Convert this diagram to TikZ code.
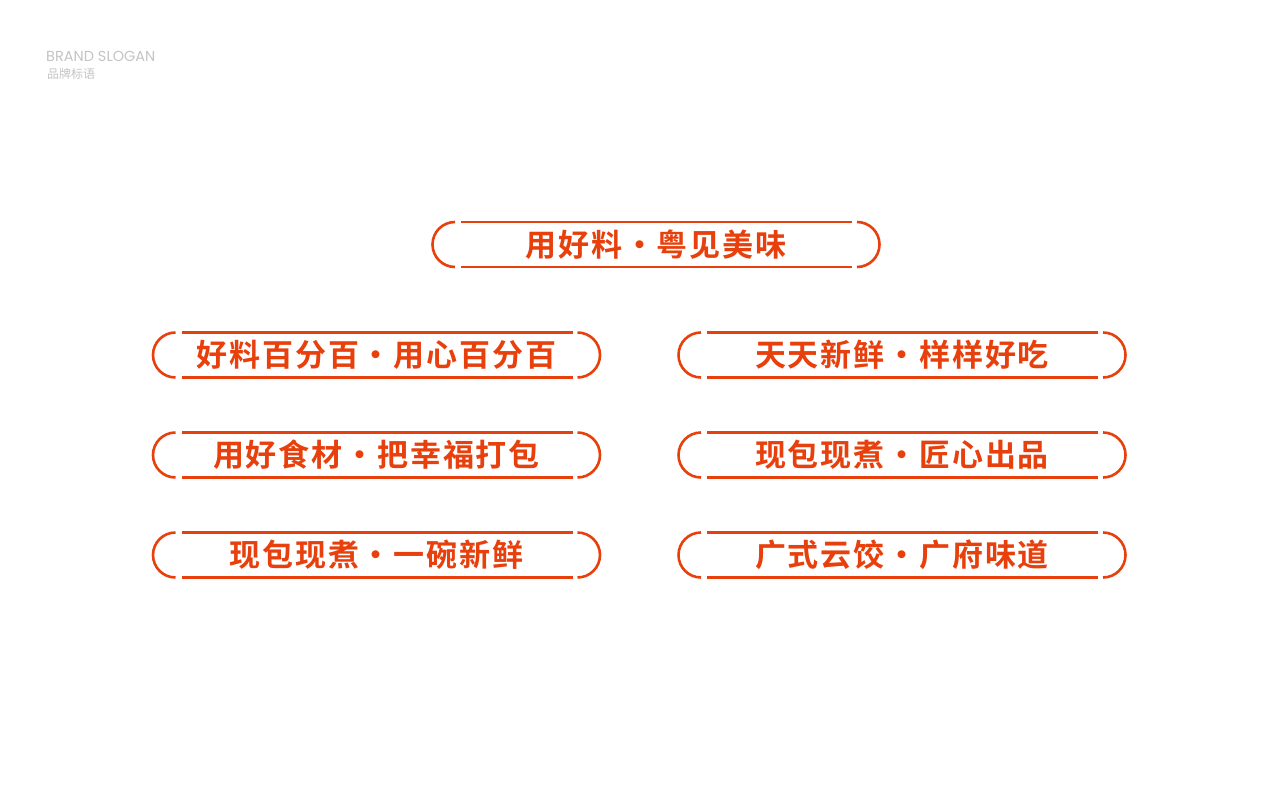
\documentclass[tikz,border=0pt]{standalone}
\usepackage{fontspec}
\newfontfamily\cjk[LetterSpace=6]{Noto Sans CJK SC Bold}
\newfontfamily\cjkl{Noto Sans CJK SC}
\setsansfont{Poppins}
\definecolor{org}{HTML}{E8400C}
\definecolor{lg}{HTML}{C4C4C4}
\begin{document}
\begin{tikzpicture}[x=1pt,y=-1pt,
  bline/.style={draw=org,line width=2.6pt},
  btext/.style={text=org,font=\cjk\fontsize{31}{31}\selectfont,inner sep=0pt}]
\useasboundingbox[fill=white] (0,0) rectangle (1280,800);
\newcommand{\badge}[4]{% name, cx, cy, text
  \begin{scope}[shift={(#2,#3)}]
  \draw[bline] (-201,-22.5) arc[start angle=90,end angle=270,x radius=22.5,y radius=-22.5];
  \draw[bline] (201,-22.5) arc[start angle=90,end angle=-90,x radius=22.5,y radius=-22.5];
  \draw[bline] (-195,-22.5) -- (196,-22.5);
  \draw[bline] (-195,22.5) -- (196,22.5);
  \end{scope}
  \node[btext] (#1) at (#2,#3) {#4};}
\node[anchor=west,text=lg,font=\sffamily\fontsize{14.5}{14.5}\selectfont,inner sep=0pt] (t1) at (46,56) {BRAND SLOGAN};
\node[anchor=west,text=lg,font=\cjkl\fontsize{12}{12}\selectfont,inner sep=0pt] (t2) at (47,74) {品牌标语};
\badge{b0}{656}{244.5}{用好料·粤见美味}
\badge{b1}{376.5}{355}{好料百分百·用心百分百}
\badge{b2}{902}{355}{天天新鲜·样样好吃}
\badge{b3}{376.5}{455}{用好食材·把幸福打包}
\badge{b4}{902}{455}{现包现煮·匠心出品}
\badge{b5}{376.5}{555}{现包现煮·一碗新鲜}
\badge{b6}{902}{555}{广式云饺·广府味道}
\end{tikzpicture}
\end{document}
